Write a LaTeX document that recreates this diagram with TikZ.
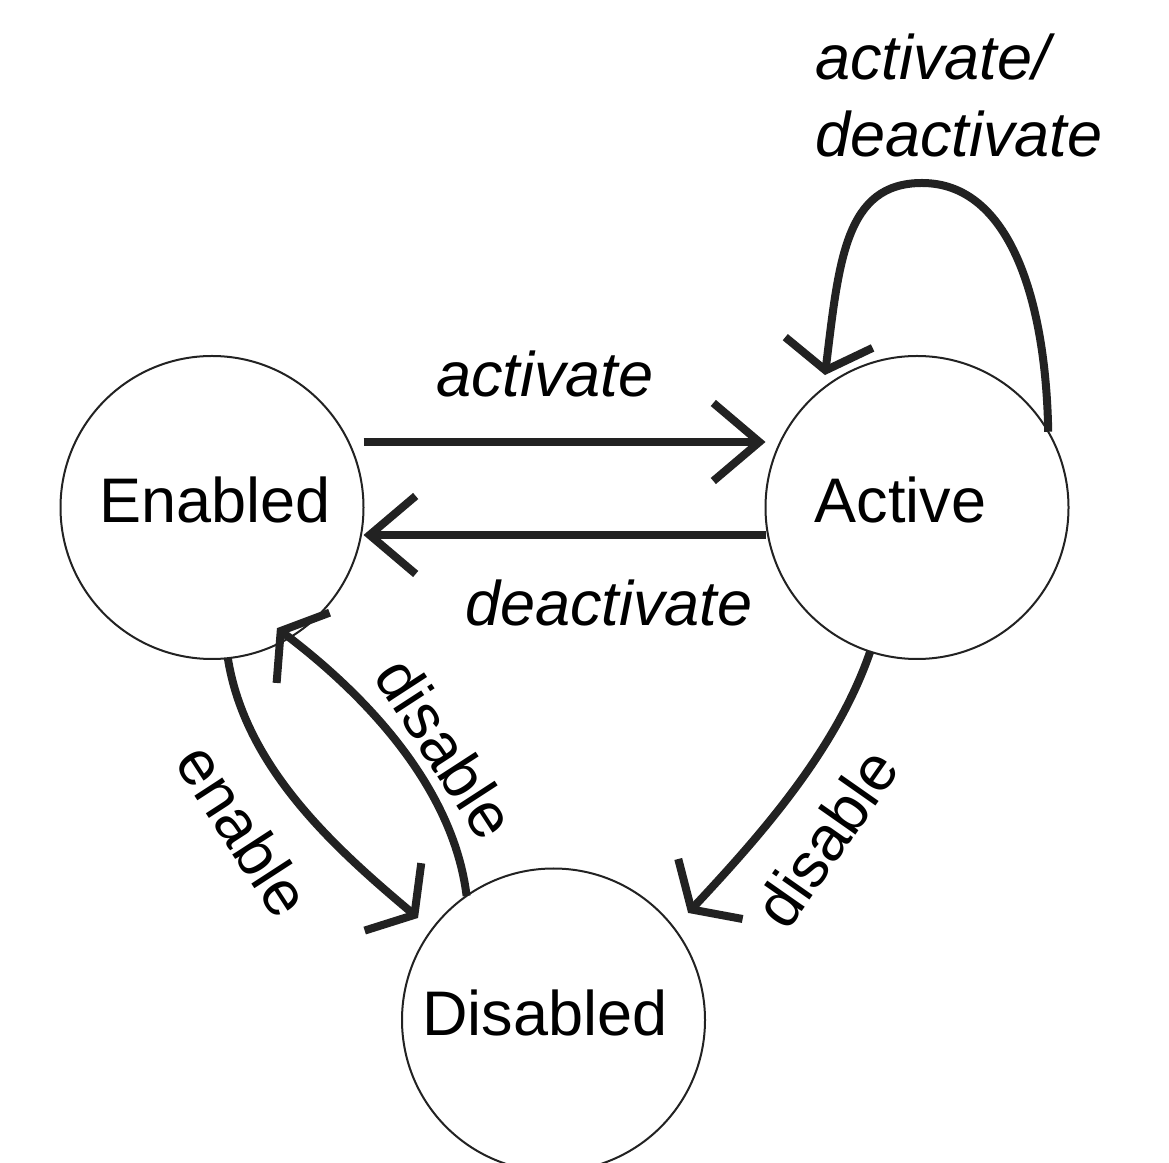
\documentclass[tikz,border=0pt]{standalone}
\usepackage{fontspec}
\setmainfont{Liberation Sans}
\usetikzlibrary{arrows.meta}
\definecolor{ink}{HTML}{222222}
\begin{document}
\begin{tikzpicture}[x=1pt,y=1pt,
  state/.style={circle, draw=ink, line width=2pt, minimum size=303pt, inner sep=0pt, outer sep=0pt},
  statetext/.style={font=\fontsize{63}{76}\selectfont, inner sep=0pt, anchor=base},
  lbl/.style={font=\fontsize{63}{77}\selectfont\itshape, inner sep=0pt},
  rlbl/.style={font=\fontsize{63}{77}\selectfont, inner sep=0pt},
  straightarrow/.style={draw=ink, line width=8pt, -{Straight Barb[sharp, length=46pt, width=78pt]}},
  curvedarrow/.style={draw=ink, line width=8pt, -{Straight Barb[sharp, length=28pt, width=88pt]}},
]
\useasboundingbox[fill=white] (0,0) rectangle (1169,1162);
\node[state] (en) at (212,654.5) {};
\node[state] (act) at (917,654.5) {};
\node[state] (dis) at (553.5,142) {};
\node[statetext] (enT) at (215,639) {Enabled};
\node[statetext] (actT) at (900.5,639) {Active};
\node[statetext] (disT) at (545,127) {Disabled};

\draw[straightarrow] ([yshift=65.5pt]en.east) -- ([yshift=65.5pt]act.west);
\draw[straightarrow] ([yshift=-27.5pt]act.west) -- ([yshift=-27.5pt]en.east);

\draw[curvedarrow] (en.-84) .. controls +(-81:110) and +(140:110) .. ([shift={(143:169.6)}]dis.center);
\draw[curvedarrow] (dis.125) .. controls +(97:110) and +(-37:110) .. ([shift={(-61.7:137)}]en.center);
\draw[curvedarrow] (act.-108.4) .. controls +(-109:105) and +(47:105) .. ([shift={(38.5:172)}]dis.center);
\draw[curvedarrow] (act.30.5) .. controls +(91:131) and +(0:88) .. ([shift={(5,324.5)}]act.center)
   .. controls +(180:77) and +(83:115) .. ([shift={(124.8:161.3)}]act.center);

\node[lbl, anchor=base west] (lA) at (436,765) {activate};
\node[lbl, anchor=base west] (lD) at (465,536) {deactivate};
\node[lbl, anchor=south west, align=left] (lAD) at (815,1005) {activate/\\deactivate};
\node[rlbl, rotate=-57] (lE) at (244,332) {enable};
\node[rlbl, rotate=-57] (lDL) at (446,414) {disable};
\node[rlbl, rotate=55] (lDR) at (826,324) {disable};
\end{tikzpicture}
\end{document}
